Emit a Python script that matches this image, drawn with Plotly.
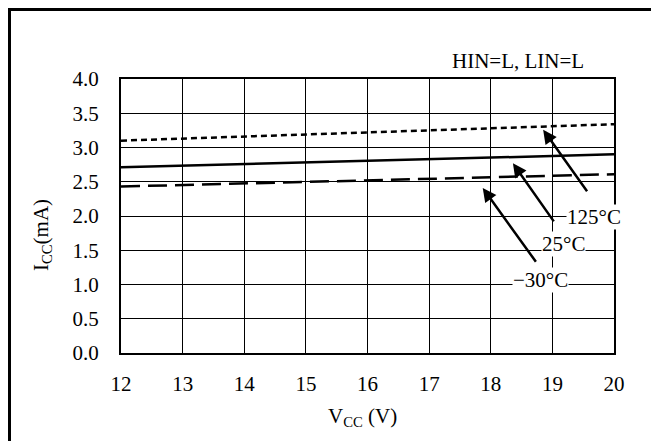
import plotly.graph_objects as go

# supply voltage (V)
vcc = [12, 16, 20]

# supply current (mA) per junction temperature
icc_125 = [3.10, 3.22, 3.34]
icc_25 = [2.71, 2.80, 2.90]
icc_m30 = [2.43, 2.52, 2.61]

x_ticks = [12, 13, 14, 15, 16, 17, 18, 19, 20]
y_ticks = [0.0, 0.5, 1.0, 1.5, 2.0, 2.5, 3.0, 3.5, 4.0]

# label text, label position, arrow tail, arrow head (data units)
callouts = [
    ("125°C", 19.68, 1.99, 19.58, 2.34, 18.85, 3.26),
    ("25°C", 19.18, 1.59, 19.04, 1.90, 18.36, 2.77),
    ("−30°C", 18.80, 1.07, 18.75, 1.31, 17.87, 2.41),
]

FONT = "Liberation Serif, Times New Roman, serif"

# plot area in page pixels (page has an 8px body margin)
PL, PR, PT, PB = 121, 614, 79, 353
PW, PH = PR - PL, PB - PT


def px(x):
    return (x - PL) / PW


def py(y):
    return (PB - y) / PH


fig = go.Figure()

fig.add_trace(go.Scatter(x=vcc, y=icc_125, mode="lines",
                         line=dict(color="black", width=2.5, dash="6px,4px")))
fig.add_trace(go.Scatter(x=vcc, y=icc_25, mode="lines",
                         line=dict(color="black", width=2.5)))
fig.add_trace(go.Scatter(x=vcc, y=icc_m30, mode="lines",
                         line=dict(color="black", width=2.5, dash="19px,8px")))

# arrows and temperature labels
for text, lx, ly, tx, ty, hx, hy in callouts:
    fig.add_annotation(x=hx, y=hy, ax=tx, ay=ty, xref="x", yref="y",
                       axref="x", ayref="y", text="", showarrow=True,
                       arrowhead=2, arrowsize=1.1, arrowwidth=2.5,
                       arrowcolor="black")
    fig.add_annotation(x=lx, y=ly, xref="x", yref="y", text=text,
                       showarrow=False, bgcolor="white", borderpad=0,
                       font=dict(family=FONT, size=21, color="black"))

fig.add_annotation(x=px(518), y=py(61), xref="paper", yref="paper",
                   xanchor="center", yanchor="middle",
                   text="HIN=L, LIN=L", showarrow=False,
                   font=dict(family=FONT, size=21, color="black"))

# axis titles
fig.add_annotation(x=px(42), y=py(235), xref="paper", yref="paper",
                   xanchor="center", yanchor="middle",
                   text="I<sub>CC</sub>(mA)", textangle=-90, showarrow=False,
                   font=dict(family=FONT, size=21, color="black"))
fig.add_annotation(x=px(362), y=py(417), xref="paper", yref="paper",
                   xanchor="center", yanchor="middle",
                   text="V<sub>CC</sub> (V)", showarrow=False,
                   font=dict(family=FONT, size=21, color="black"))

# outer frame
fig.add_shape(type="rect", xref="paper", yref="paper",
              x0=px(9.5), x1=px(655), y0=py(450), y1=py(9.5),
              line=dict(color="black", width=3), layer="below")

fig.update_xaxes(range=[12, 20], tickvals=x_ticks, showgrid=True,
                 gridcolor="black", gridwidth=1, showline=True, mirror=True,
                 linecolor="black", linewidth=2, zeroline=False,
                 ticklabelstandoff=11,
                 tickfont=dict(family=FONT, size=21, color="black"))
fig.update_yaxes(range=[0, 4], tickvals=y_ticks, tickformat=".1f", showgrid=True,
                 gridcolor="black", gridwidth=1, showline=True, mirror=True,
                 linecolor="black", linewidth=2, zeroline=False,
                 ticklabelstandoff=16,
                 tickfont=dict(family=FONT, size=21, color="black"))

fig.update_layout(
    width=651, height=433,
    margin=dict(l=PL - 8, r=659 - PR, t=PT - 8, b=441 - PB),
    plot_bgcolor="white", paper_bgcolor="white",
    showlegend=False,
)

fig.write_html("out.html")
